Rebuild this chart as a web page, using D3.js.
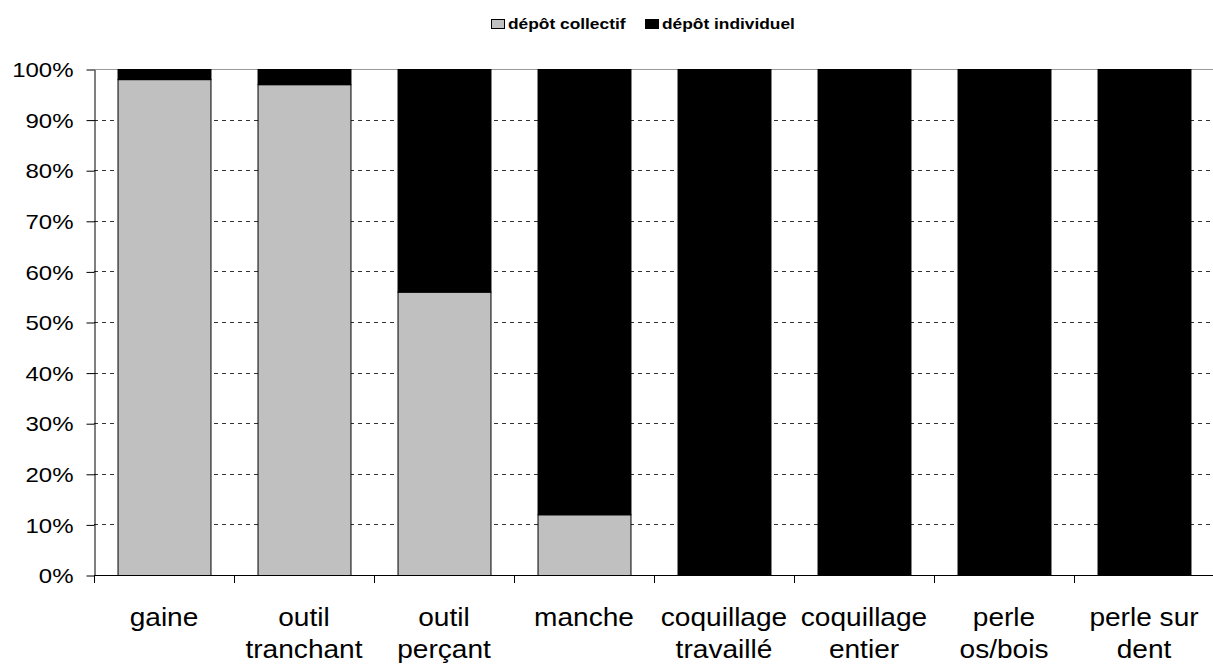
<!DOCTYPE html>
<html>
<head>
<meta charset="utf-8">
<script src="https://cdn.jsdelivr.net/npm/d3@7"></script>
<style>
  body { margin: 0; background: #fff; }
  svg { display: block; font-family: "Liberation Sans", Arial, sans-serif; }
</style>
</head>
<body>
<svg id="chart" width="1213" height="664"></svg>
<script>
// categories (two-line labels split by \n)
var categories = ["gaine", "outil\ntranchant", "outil\nperçant", "manche",
  "coquillage\ntravaillé", "coquillage\nentier", "perle\nos/bois", "perle sur\ndent"]
var collectif = [98, 97, 56, 12, 0, 0, 0, 0]
var individuel = [2, 3, 44, 88, 100, 100, 100, 100]
var seriesNames = ["dépôt collectif", "dépôt individuel"]
var seriesColors = ["#c0c0c0", "#000000"]
var yTicks = [0, 10, 20, 30, 40, 50, 60, 70, 80, 90, 100]

var svg = d3.select('#chart')
var m = {left: 94, top: 69, right: 1214, bottom: 575}

var x = d3.scaleBand().domain(categories).range([m.left, m.right]).paddingInner(0.336).paddingOuter(0.168)
var y = d3.scaleLinear().domain([0, 100]).range([m.bottom, m.top])

// dashed gridlines
svg.append('g').selectAll('line').data(yTicks.filter(d => d > 0 && d < 100)).join('line')
  .attr('x1', m.left).attr('x2', m.right)
  .attr('y1', d => Math.round(y(d)) + 0.5).attr('y2', d => Math.round(y(d)) + 0.5)
  .attr('stroke', '#333').attr('stroke-dasharray', '4,4')

// top border line
svg.append('line').attr('x1', m.left).attr('x2', m.right)
  .attr('y1', y(100) + 0.5).attr('y2', y(100) + 0.5).attr('stroke', '#999')

// stacked bars
var stack = categories.map((c, i) => ({cat: c, a: collectif[i], b: individuel[i]}))
var bars = svg.append('g')
bars.selectAll('rect.col').data(stack.filter(d => d.a > 0)).join('rect')
  .attr('x', d => x(d.cat) + 0.5).attr('width', x.bandwidth())
  .attr('y', d => y(d.a) + 0.5).attr('height', d => y(0) - y(d.a))
  .attr('fill', seriesColors[0]).attr('stroke', '#000')
bars.selectAll('rect.ind').data(stack.filter(d => d.b > 0)).join('rect')
  .attr('x', d => x(d.cat) + 0.5).attr('width', x.bandwidth())
  .attr('y', d => y(d.a + d.b) + 0.5).attr('height', d => y(d.a) - y(d.a + d.b))
  .attr('fill', seriesColors[1]).attr('stroke', '#000')

// y axis
var yAxis = svg.append('g').attr('transform', 'translate(' + (m.left + 0.5) + ',0.5)')
  .call(d3.axisLeft(y).tickValues(yTicks).tickFormat(d => d + '%').tickSize(8).tickSizeOuter(0))
yAxis.select('.domain').attr('stroke', '#000')
yAxis.selectAll('.tick line').attr('stroke', '#000')
yAxis.selectAll('text')
  .attr('font-size', 20).attr('fill', '#000').attr('font-family', '"Liberation Sans", Arial, sans-serif')
  .attr('x', 0).attr('dy', '0.36em')
  .attr('transform', 'translate(-21,0) scale(1.2,1)')

// x axis line and ticks between categories
var xg = svg.append('g')
xg.append('line').attr('x1', m.left).attr('x2', m.right)
  .attr('y1', m.bottom + 0.5).attr('y2', m.bottom + 0.5).attr('stroke', '#000')
var step = x.step()
xg.selectAll('line.t').data(d3.range(categories.length)).join('line')
  .attr('x1', i => Math.round(m.left + i * step) + 0.5).attr('x2', i => Math.round(m.left + i * step) + 0.5)
  .attr('y1', m.bottom).attr('y2', m.bottom + 8).attr('stroke', '#000')

// category labels
xg.selectAll('g.lab').data(categories).join('g')
  .attr('transform', d => 'translate(' + (x(d) + x.bandwidth() / 2) + ',626) scale(1.06,1)')
  .each(function(d) {
    var g = d3.select(this)
    d.split('\n').forEach((s, i) => g.append('text').attr('y', i * 32)
      .attr('text-anchor', 'middle').attr('font-size', 26.5).attr('fill', '#000').text(s))
  })

// legend
var lg = svg.append('g').attr('font-size', 14).attr('font-weight', 'bold')
var lx = [491, 645]
seriesNames.forEach(function(n, i) {
  lg.append('rect').attr('x', lx[i] + 0.5).attr('y', 19.5).attr('width', 13).attr('height', 9)
    .attr('fill', seriesColors[i]).attr('stroke', '#000')
  lg.append('text').attr('transform', 'translate(' + (lx[i] + 17) + ',29) scale(1.24,1)').text(n)
})
</script>
</body>
</html>
